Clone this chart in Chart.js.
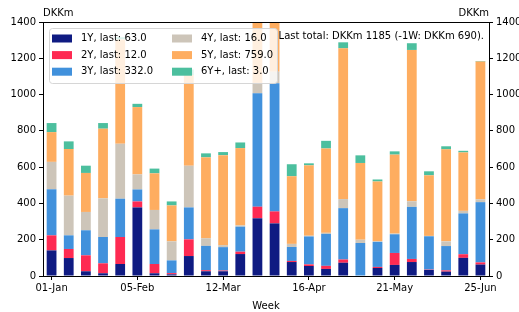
<!DOCTYPE html>
<html>
<head>
<meta charset="utf-8">
<script src="https://cdn.jsdelivr.net/npm/chart.js@4"></script>
<style>
  html, body { margin: 0; padding: 0; background: #fff; }
  #wrap { width: 519px; height: 312px; }
</style>
</head>
<body>
<div id="wrap"><canvas id="chart" width="519" height="312"></canvas></div>
<script>
// week labels (every 5th is shown on the axis)
const weeks = ["01-Jan", "08-Jan", "15-Jan", "22-Jan", "29-Jan", "05-Feb", "12-Feb", "19-Feb", "26-Feb",
    "05-Mar", "12-Mar", "19-Mar", "26-Mar", "02-Apr", "09-Apr", "16-Apr", "23-Apr", "30-Apr",
    "07-May", "14-May", "21-May", "28-May", "04-Jun", "11-Jun", "18-Jun", "25-Jun"];

const seriesNames = ["1Y", "2Y", "3Y", "4Y", "5Y", "6Y+"];
const seriesColors = ["#0f1b82", "#fe2a52", "#4191dc", "#cdc5b9", "#fead60", "#4cbf9e"];

const y1 = [141, 99, 26, 15, 66, 378, 15, 9, 110, 26, 26, 121, 318, 290, 77, 55, 39, 73, 0, 44, 61, 77, 33, 24, 100, 63];
const y2 = [83, 50, 88, 55, 149, 33, 51, 7, 92, 6, 4, 13, 64, 66, 6, 9, 17, 18, 0, 6, 66, 17, 2, 7, 20, 12];
const y3 = [254, 75, 138, 145, 211, 66, 191, 70, 176, 134, 129, 138, 625, 706, 77, 154, 176, 283, 182, 138, 103, 287, 184, 134, 225, 332];
const y4 = [151, 219, 101, 213, 303, 83, 107, 105, 230, 42, 11, 7, 57, 64, 17, 4, 6, 50, 18, 4, 4, 31, 2, 26, 14, 16];
const y5 = [164, 257, 215, 384, 575, 371, 202, 198, 500, 446, 496, 426, 450, 400, 373, 388, 465, 831, 423, 329, 435, 834, 334, 507, 322, 759];
const y6 = [50, 42, 40, 31, 12, 18, 26, 22, 30, 22, 17, 31, 20, 20, 66, 11, 42, 33, 42, 11, 18, 37, 22, 17, 9, 3];

const yTicks = [0, 200, 400, 600, 800, 1000, 1200, 1400];
const unit = "DKKm";

const allSeries = [y1, y2, y3, y4, y5, y6];
const FONT = "DejaVu Sans";

// totals for the annotation text
const n = weeks.length;
const lastTotal = allSeries.reduce((s, a) => s + a[n - 1], 0);
const prevTotal = allSeries.reduce((s, a) => s + a[n - 2], 0);

const datasets = seriesNames.map((name, i) => ({
    label: `${name}, last: ${allSeries[i][n - 1].toFixed(1)}`,
    data: allSeries[i],
    backgroundColor: seriesColors[i],
    borderWidth: 0,
    categoryPercentage: 0.57,
    barPercentage: 1.0,
    yAxisID: "y"
}));

// frame, unit labels, legend box and annotation, matplotlib style
const decor = {
    id: "decor",
    afterDraw(chart) {
        const ctx = chart.ctx;
        const a = chart.chartArea;
        ctx.save();

        // top spine
        ctx.strokeStyle = "#000";
        ctx.lineWidth = 1;
        ctx.beginPath();
        ctx.moveTo(a.left, a.top + 0.5);
        ctx.lineTo(a.right, a.top + 0.5);
        ctx.stroke();

        ctx.fillStyle = "#000";
        ctx.font = `10px "${FONT}"`;
        ctx.textBaseline = "alphabetic";
        ctx.textAlign = "left";
        ctx.fillText(unit, a.left, a.top - 6);
        ctx.textAlign = "right";
        ctx.fillText(unit, a.right, a.top - 6);

        // legend
        const lx = a.left + 6, ly = a.top + 6, lw = 228, lh = 55;
        ctx.beginPath();
        ctx.roundRect(lx + 0.5, ly + 0.5, lw, lh, 3);
        ctx.fillStyle = "rgba(255,255,255,0.8)";
        ctx.fill();
        ctx.strokeStyle = "#d6d6d6";
        ctx.stroke();

        ctx.textAlign = "left";
        ctx.textBaseline = "middle";
        datasets.forEach((ds, i) => {
            const col = Math.floor(i / 3), row = i % 3;
            const sx = lx + 3 + col * 120;
            const cy = ly + 10.5 + row * 16.6;
            ctx.fillStyle = ds.backgroundColor;
            ctx.fillRect(sx, cy - 4, 20, 8);
            ctx.fillStyle = "#000";
            ctx.fillText(ds.label, sx + 29, cy);
        });

        // annotation
        ctx.textAlign = "right";
        ctx.fillText(`Last total: ${unit} ${lastTotal} (-1W: ${unit} ${prevTotal}).`, a.right - 5, a.top + 14);
        ctx.restore();
    }
};

const tickFont = { family: FONT, size: 10 };

new Chart(document.getElementById("chart").getContext("2d"), {
    type: "bar",
    data: { labels: weeks, datasets: datasets },
    options: {
        responsive: false,
        animation: false,
        layout: { padding: { top: 22, left: 0, right: 0, bottom: 0 } },
        plugins: {
            legend: { display: false },
            tooltip: { enabled: false }
        },
        scales: {
            x: {
                stacked: true,
                offset: true,
                border: { display: true, color: "#000" },
                grid: {
                    display: true, offset: false, drawOnChartArea: false, drawTicks: true, tickLength: 4,
                    color: c => (c.index % 5 === 0 ? "#000" : "rgba(0,0,0,0)")
                },
                ticks: {
                    autoSkip: false, maxRotation: 0, color: "#000", font: tickFont, padding: 2,
                    callback: (v, i) => (i % 5 === 0 ? weeks[i] : "")
                },
                title: { display: true, text: "Week", color: "#000", font: tickFont, padding: { top: 0, bottom: 0 } },
                afterFit: s => { s.height = 36; }
            },
            y: {
                stacked: true,
                position: "left",
                min: 0, max: 1400,
                border: { display: true, color: "#000" },
                grid: { drawOnChartArea: false, drawTicks: true, tickLength: 4, color: "#000" },
                afterBuildTicks: s => { s.ticks = yTicks.map(v => ({ value: v })); },
                ticks: { color: "#000", font: tickFont, padding: 3, callback: v => String(v) },
                afterFit: s => { s.width = 43; }
            },
            y2: {
                position: "right",
                min: 0, max: 1400,
                border: { display: true, color: "#000" },
                grid: { drawOnChartArea: false, drawTicks: true, tickLength: 4, color: "#000" },
                afterBuildTicks: s => { s.ticks = yTicks.map(v => ({ value: v })); },
                ticks: { color: "#000", font: tickFont, padding: 3, callback: v => String(v) },
                afterFit: s => { s.width = 30; }
            }
        }
    },
    plugins: [decor]
});
</script>
</body>
</html>
